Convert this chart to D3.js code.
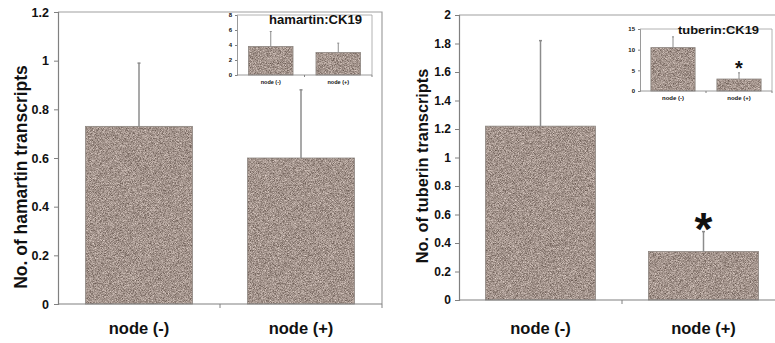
<!DOCTYPE html>
<html>
<head>
<meta charset="utf-8">
<script src="https://cdn.jsdelivr.net/npm/d3@7"></script>
<style>
  html, body { margin: 0; padding: 0; background: #fff; }
  svg { display: block; font-family: "Liberation Sans", Arial, sans-serif; }
</style>
</head>
<body>
<div id="chart"></div>
<script>
// Categories shared by all four panels.
const categories = ["node (-)", "node (+)"];

// Main panels: transcript counts (mean and upper error).
const hamartinMean = [0.73, 0.60];
const hamartinErr = [0.26, 0.28];
const tuberinMean = [1.22, 0.34];
const tuberinErr = [0.60, 0.14];

// Insets: ratio to CK19.
const hamartinRatio = [3.8, 3.0];
const hamartinRatioErr = [2.0, 1.25];
const tuberinRatio = [10.5, 2.9];
const tuberinRatioErr = [2.6, 1.5];

// Tick labels.
const hamartinTicks = [0, 0.2, 0.4, 0.6, 0.8, 1, 1.2];
const tuberinTicks = [0, 0.2, 0.4, 0.6, 0.8, 1, 1.2, 1.4, 1.6, 1.8, 2];
const hamartinRatioTicks = [0, 2, 4, 6, 8];
const tuberinRatioTicks = [0, 5, 10, 15];

const width = 775, height = 343;

const svg = d3.select("#chart").append("svg")
  .attr("width", width)
  .attr("height", height);

// Granite-like fill for the bars.
const filter = svg.append("defs").append("filter")
  .attr("id", "grain")
  .attr("x", 0).attr("y", 0).attr("width", 1).attr("height", 1)
  .attr("color-interpolation-filters", "sRGB");
filter.append("feTurbulence")
  .attr("type", "fractalNoise")
  .attr("baseFrequency", 1.4)
  .attr("numOctaves", 1)
  .attr("seed", 7)
  .attr("result", "noise");
filter.append("feColorMatrix")
  .attr("in", "noise")
  .attr("type", "matrix")
  .attr("values", [
    "0.8 0 0 0 0.24",
    "0.8 0 0 0 0.18",
    "0.8 0 0 0 0.15",
    "0 0 0 0 1"
  ].join(" "))
  .attr("result", "tint");
filter.append("feComposite")
  .attr("in", "tint")
  .attr("in2", "SourceGraphic")
  .attr("operator", "in");

/**
 * Draws one bar panel (main or inset).
 */
function panel(opts) {
  const g = svg.append("g");

  const x = d3.scaleBand()
    .domain(categories)
    .range([opts.left, opts.right]);

  const y = d3.scaleLinear()
    .domain(opts.domain)
    .range([opts.bottom, opts.top]);

  const barW = x.bandwidth() * opts.barRatio;

  // Frame (top and right).
  g.append("path")
    .attr("d", `M${opts.left},${opts.top}H${opts.right}V${opts.bottom}`)
    .attr("fill", "none")
    .attr("stroke", "#a0a0a0")
    .attr("stroke-width", opts.frameW);

  // Bars.
  g.selectAll("rect.bar")
    .data(opts.values)
    .join("rect")
      .attr("class", "bar")
      .attr("x", (d, i) => x(categories[i]) + (x.bandwidth() - barW) / 2)
      .attr("y", d => y(d))
      .attr("width", barW)
      .attr("height", d => y(0) - y(d))
      .attr("fill", "#9b8b82")
      .attr("filter", "url(#grain)");

  g.selectAll("rect.edge")
    .data(opts.values)
    .join("rect")
      .attr("class", "edge")
      .attr("x", (d, i) => x(categories[i]) + (x.bandwidth() - barW) / 2)
      .attr("y", d => y(d))
      .attr("width", barW)
      .attr("height", d => y(0) - y(d))
      .attr("fill", "none")
      .attr("stroke", "#8d8680")
      .attr("stroke-width", 0.8);

  // Upper error bars.
  const cx = i => x(categories[i]) + x.bandwidth() / 2;
  g.selectAll("line.err")
    .data(opts.values)
    .join("line")
      .attr("class", "err")
      .attr("x1", (d, i) => cx(i))
      .attr("x2", (d, i) => cx(i))
      .attr("y1", d => y(d))
      .attr("y2", (d, i) => y(d + opts.errs[i]))
      .attr("stroke", "#8c8c8c")
      .attr("stroke-width", opts.errW);
  g.selectAll("line.cap")
    .data(opts.values)
    .join("line")
      .attr("class", "cap")
      .attr("x1", (d, i) => cx(i) - opts.cap)
      .attr("x2", (d, i) => cx(i) + opts.cap)
      .attr("y1", (d, i) => y(d + opts.errs[i]))
      .attr("y2", (d, i) => y(d + opts.errs[i]))
      .attr("stroke", "#8c8c8c")
      .attr("stroke-width", opts.errW);

  // Y axis.
  const yAxis = g.append("g")
    .attr("transform", `translate(${opts.left},0)`)
    .call(d3.axisLeft(y)
      .tickValues(opts.ticks)
      .tickFormat(d3.format("~g"))
      .tickSizeOuter(0)
      .tickSize(opts.tick)
      .tickPadding(opts.tickPad));
  yAxis.select(".domain").attr("stroke", "#808080").attr("stroke-width", opts.frameW);
  yAxis.selectAll(".tick line").attr("stroke", "#808080");
  yAxis.selectAll(".tick text")
    .attr("font-family", "Liberation Sans, Arial, sans-serif")
    .attr("font-weight", "bold")
    .attr("font-size", opts.tickFont)
    .attr("fill", "#111");

  // X axis line with ticks at the band edges.
  g.append("line")
    .attr("x1", opts.left).attr("x2", opts.right)
    .attr("y1", y(0)).attr("y2", y(0))
    .attr("stroke", "#808080")
    .attr("stroke-width", opts.frameW);
  g.selectAll("line.xtick")
    .data([x(categories[1]), opts.right])
    .join("line")
      .attr("class", "xtick")
      .attr("x1", d => d).attr("x2", d => d)
      .attr("y1", y(0)).attr("y2", y(0) + opts.tick)
      .attr("stroke", "#808080");

  // Category labels.
  g.selectAll("text.cat")
    .data(categories)
    .join("text")
      .attr("class", "cat")
      .attr("x", d => x(d) + x.bandwidth() / 2)
      .attr("y", opts.catY)
      .attr("text-anchor", "middle")
      .attr("font-weight", "bold")
      .attr("font-size", opts.catFont)
      .attr("fill", "#111")
      .text(d => d);

  return { g, x, y, cx };
}

// Left main panel: hamartin.
const left = panel({
  left: 58, right: 382, top: 12, bottom: 304,
  domain: [0, 1.2], ticks: hamartinTicks,
  values: hamartinMean, errs: hamartinErr,
  barRatio: 0.66, frameW: 1.2, errW: 1.5, cap: 1.5,
  tick: 4, tickPad: 5, tickFont: 12.5,
  catY: 334, catFont: 16.5
});
left.g.append("text")
  .attr("transform", "translate(27,177) rotate(-90)")
  .attr("text-anchor", "middle")
  .attr("font-weight", "bold")
  .attr("font-size", 17.5)
  .attr("fill", "#111")
  .text("No. of hamartin transcripts");

// Right main panel: tuberin (clipped at the page edge).
const right = panel({
  left: 459, right: 785, top: 15, bottom: 300,
  domain: [0, 2], ticks: tuberinTicks,
  values: tuberinMean, errs: tuberinErr,
  barRatio: 0.675, frameW: 1.2, errW: 1.5, cap: 1.5,
  tick: 4, tickPad: 4, tickFont: 12,
  catY: 334, catFont: 16.5
});
right.g.append("text")
  .attr("transform", "translate(428,166) rotate(-90)")
  .attr("text-anchor", "middle")
  .attr("font-weight", "bold")
  .attr("font-size", 16.3)
  .attr("fill", "#111")
  .text("No. of tuberin transcripts");
right.g.append("text")
  .attr("x", right.cx(1))
  .attr("y", right.y(tuberinMean[1] + tuberinErr[1]) + 13)
  .attr("text-anchor", "middle")
  .attr("font-weight", "bold")
  .attr("font-size", 46)
  .attr("fill", "#111")
  .text("*");

// Left inset: hamartin:CK19.
const leftInset = panel({
  left: 237, right: 372, top: 15, bottom: 75,
  domain: [0, 8], ticks: hamartinRatioTicks,
  values: hamartinRatio, errs: hamartinRatioErr,
  barRatio: 0.66, frameW: 0.8, errW: 1, cap: 1,
  tick: 2, tickPad: 3, tickFont: 6,
  catY: 84, catFont: 5.5
});
leftInset.g.append("text")
  .attr("x", 269).attr("y", 24)
  .attr("font-weight", "bold")
  .attr("font-size", 13)
  .attr("textLength", 93)
  .attr("lengthAdjust", "spacingAndGlyphs")
  .attr("fill", "#111")
  .text("hamartin:CK19");

// Right inset: tuberin:CK19.
const rightInset = panel({
  left: 640, right: 772, top: 29, bottom: 91,
  domain: [0, 15], ticks: tuberinRatioTicks,
  values: tuberinRatio, errs: tuberinRatioErr,
  barRatio: 0.67, frameW: 0.8, errW: 1, cap: 1,
  tick: 2, tickPad: 3, tickFont: 6,
  catY: 100, catFont: 6
});
rightInset.g.append("text")
  .attr("x", 678).attr("y", 34)
  .attr("font-weight", "bold")
  .attr("font-size", 10.5)
  .attr("textLength", 81)
  .attr("lengthAdjust", "spacingAndGlyphs")
  .attr("fill", "#111")
  .text("tuberin:CK19");
rightInset.g.append("text")
  .attr("x", rightInset.cx(1))
  .attr("y", rightInset.y(tuberinRatio[1] + tuberinRatioErr[1]) + 2)
  .attr("text-anchor", "middle")
  .attr("font-weight", "bold")
  .attr("font-size", 20)
  .attr("fill", "#111")
  .text("*");
</script>
</body>
</html>
